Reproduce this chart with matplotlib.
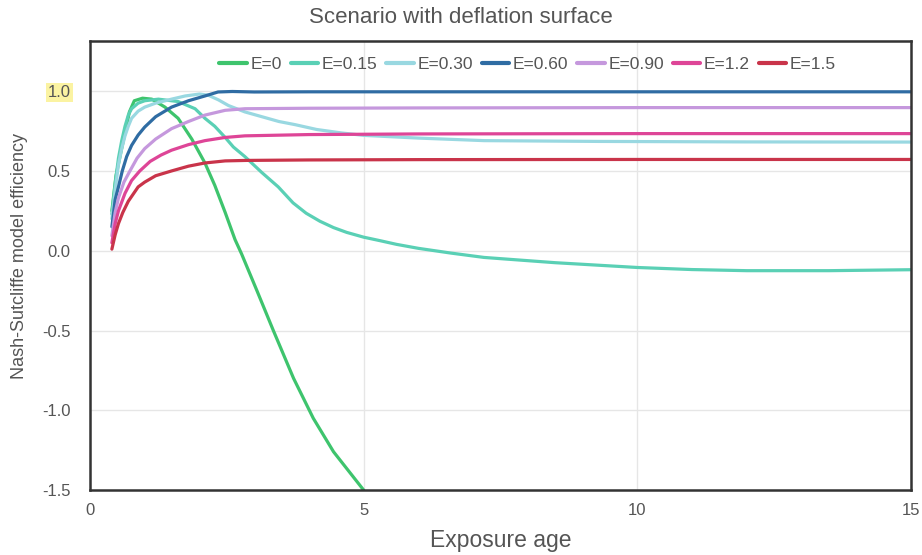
import matplotlib.pyplot as plt

# data
age_e0 = [0.40, 0.475, 0.566, 0.66, 0.72, 0.81, 0.96, 1.13, 1.37, 1.61, 1.86, 2.10, 2.28, 2.47,
          2.65, 2.77, 3.05, 3.35, 3.72, 4.08, 4.45, 5.0]
nse_e0 = [0.25, 0.47, 0.62, 0.77, 0.87, 0.94, 0.956, 0.95, 0.90, 0.83, 0.70, 0.55, 0.41, 0.24,
          0.07, -0.02, -0.25, -0.50, -0.80, -1.05, -1.26, -1.50]

age_e015 = [0.40, 0.46, 0.52, 0.58, 0.64, 0.70, 0.76, 0.88, 1.0, 1.25, 1.61, 1.92, 2.10, 2.28,
            2.47, 2.62, 2.83, 3.14, 3.44, 3.71, 3.95, 4.20, 4.45, 4.69, 5.0, 5.3, 5.6, 6.0,
            6.6, 7.2, 8.5, 10, 11, 12, 13.5, 15]
nse_e015 = [0.23, 0.42, 0.58, 0.69, 0.78, 0.85, 0.89, 0.925, 0.94, 0.95, 0.935, 0.89, 0.83, 0.78,
            0.71, 0.65, 0.59, 0.49, 0.40, 0.30, 0.235, 0.185, 0.145, 0.115, 0.085, 0.063, 0.04, 0.015,
            -0.015, -0.042, -0.075, -0.105, -0.118, -0.125, -0.125, -0.119]

age_e030 = [0.40, 0.46, 0.52, 0.58, 0.64, 0.70, 0.76, 0.88, 1.0, 1.2, 1.49, 1.74, 2.0, 2.16,
            2.35, 2.53, 2.83, 3.14, 3.45, 3.75, 4.14, 4.6, 5.0, 6.0, 7.2, 9.3, 12, 15]
nse_e030 = [0.20, 0.38, 0.54, 0.64, 0.72, 0.78, 0.83, 0.875, 0.90, 0.925, 0.95, 0.97, 0.982, 0.975,
            0.945, 0.91, 0.87, 0.84, 0.81, 0.79, 0.76, 0.738, 0.723, 0.706, 0.69, 0.685, 0.682, 0.681]

age_e060 = [0.40, 0.46, 0.52, 0.59, 0.67, 0.76, 0.88, 1.0, 1.2, 1.49, 1.8, 2.1, 2.34, 2.6, 3, 4, 6, 10, 15]
nse_e060 = [0.15, 0.32, 0.40, 0.50, 0.59, 0.66, 0.725, 0.775, 0.84, 0.90, 0.94, 0.97, 0.995, 0.998,
            0.995, 0.996, 0.996, 0.996, 0.996]

age_e090 = [0.40, 0.46, 0.52, 0.62, 0.73, 0.86, 1.0, 1.2, 1.49, 1.8, 2.1, 2.47, 2.83, 4, 6, 10, 15]
nse_e090 = [0.094, 0.24, 0.33, 0.43, 0.50, 0.58, 0.64, 0.70, 0.765, 0.81, 0.85, 0.88, 0.89, 0.893,
            0.895, 0.897, 0.897]

age_e12 = [0.40, 0.46, 0.52, 0.64, 0.76, 0.91, 1.1, 1.3, 1.49, 1.8, 2.1, 2.47, 2.83, 4, 6, 10, 15]
nse_e12 = [0.05, 0.17, 0.25, 0.36, 0.44, 0.50, 0.56, 0.60, 0.63, 0.665, 0.69, 0.71, 0.72, 0.728,
           0.732, 0.734, 0.734]

age_e15 = [0.40, 0.46, 0.52, 0.60, 0.70, 0.78, 0.88, 1.0, 1.2, 1.49, 1.8, 2.1, 2.47, 2.86, 4, 6, 10, 15]
nse_e15 = [0.01, 0.10, 0.17, 0.24, 0.31, 0.35, 0.40, 0.43, 0.47, 0.50, 0.53, 0.55, 0.563, 0.566,
           0.569, 0.571, 0.572, 0.572]

labels = ["E=0", "E=0.15", "E=0.30", "E=0.60", "E=0.90", "E=1.2", "E=1.5"]
colors = ["#3ec46d", "#5ad0b5", "#99d8e1", "#2f6ca3", "#c598dd", "#de4597", "#c9344a"]
series = [
    (age_e0, nse_e0),
    (age_e015, nse_e015),
    (age_e030, nse_e030),
    (age_e060, nse_e060),
    (age_e090, nse_e090),
    (age_e12, nse_e12),
    (age_e15, nse_e15),
]

plt.rcParams["font.family"] = ["Liberation Sans", "DejaVu Sans"]

fig = plt.figure(figsize=(9.22, 5.55), dpi=100)
ax = fig.add_axes([0.0976, 0.117, 0.8904, 0.809])

for (x, y), lab, col in zip(series, labels, colors):
    ax.plot(x, y, color=col, lw=2.3, label=lab, solid_joinstyle="round",
            solid_capstyle="round")

ax.set_xlim(0, 15)
ax.set_ylim(-1.5, 1.314)
ax.set_xticks([0, 5, 10, 15])
ax.set_yticks([-1.5, -1.0, -0.5, 0.0, 0.5, 1.0])
ax.set_yticklabels(["-1.5", "-1.0", "-0.5", "0.0", "0.5", "1.0"])
ax.tick_params(length=0, labelsize=12, labelcolor="#555555")
ax.tick_params(axis="y", pad=14)
ax.tick_params(axis="x", pad=9)

# highlighted 1.0 label
ax.get_yticklabels()[-1].set_bbox(dict(facecolor="#fbf3a2", edgecolor="none", pad=1.5))

ax.grid(True, color="#e6e6e6", lw=1)
ax.set_axisbelow(True)
for s in ax.spines.values():
    s.set_color("#333333")
    s.set_linewidth(1.8)

# title centred on the figure, not the axes
fig.text(0.5, 0.968, "Scenario with deflation surface", fontsize=16, color="#555555",
         ha="center", va="center")
ax.set_xlabel("Exposure age", fontsize=16.5, color="#555555", labelpad=8)
ax.set_ylabel("Nash-Sutcliffe model efficiency", fontsize=13, color="#555555", labelpad=10,
              y=0.522)

leg = ax.legend(loc="upper center", bbox_to_anchor=(0.533, 0.999), ncol=7, frameon=False,
                fontsize=12.5, handlelength=1.6, handletextpad=0.2, columnspacing=0.5,
                labelcolor="#555555")
for h in leg.get_lines():
    h.set_linewidth(3)

fig.savefig("out.png", dpi=100)
